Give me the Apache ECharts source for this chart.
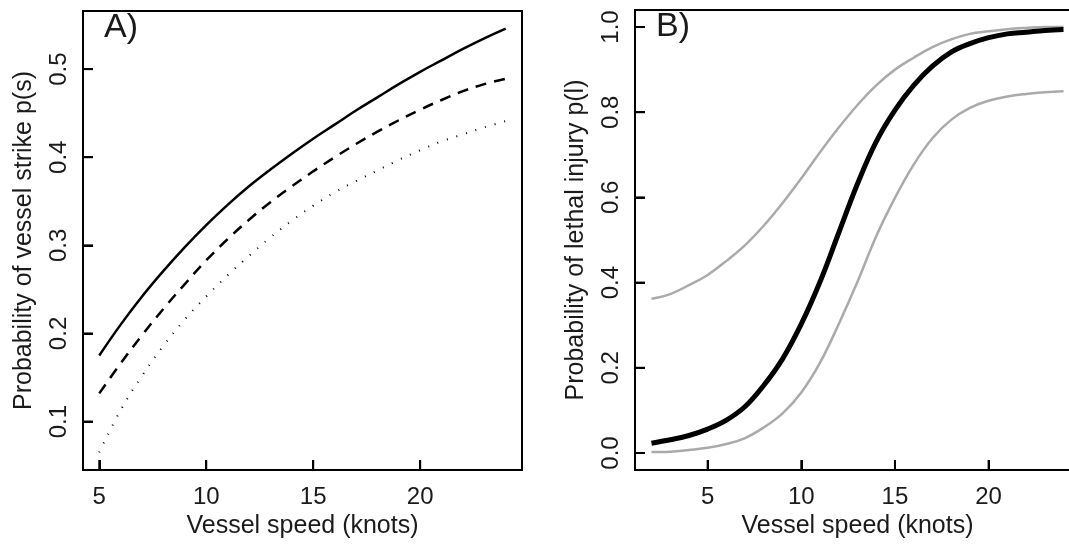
<!DOCTYPE html>
<html>
<head>
<meta charset="utf-8">
<script src="https://cdn.jsdelivr.net/npm/echarts@6/dist/echarts.min.js"></script>
<style>
  html, body { margin: 0; padding: 0; overflow: hidden; }
  .panel { position: absolute; top: 0; height: 548px; }
  #panelA { left: 0; width: 540px; }
  #panelB { left: 540px; width: 560px; }
</style>
</head>
<body>
<div id="panelA" class="panel"></div>
<div id="panelB" class="panel"></div>
<script>
// panel A: probability of vessel strike vs speed
const speedA = [5, 6, 7, 8, 9, 10, 11, 12, 13, 14, 15, 16, 17, 18, 19, 20, 21, 22, 23, 24]
const strikeSolid = [0.175, 0.210, 0.242, 0.271, 0.298, 0.323, 0.346, 0.367, 0.386, 0.404,
  0.421, 0.437, 0.453, 0.468, 0.483, 0.497, 0.510, 0.523, 0.535, 0.546]
const strikeDashed = [0.132, 0.166, 0.198, 0.228, 0.256, 0.283, 0.307, 0.329, 0.349, 0.367,
  0.384, 0.400, 0.415, 0.429, 0.442, 0.454, 0.465, 0.475, 0.483, 0.489]
const strikeDotted = [0.065, 0.113, 0.152, 0.186, 0.216, 0.242, 0.266, 0.288, 0.309, 0.328,
  0.345, 0.360, 0.373, 0.385, 0.397, 0.408, 0.418, 0.426, 0.434, 0.441]

// panel B: probability of lethal injury vs speed
const speedB = [2, 3, 4, 5, 6, 7, 8, 9, 10, 11, 12, 13, 14, 15, 16, 17, 18, 19, 20, 21, 22, 23, 24]
const lethalFit = [0.023, 0.031, 0.041, 0.056, 0.077, 0.109, 0.159, 0.221, 0.303, 0.402, 0.517,
  0.632, 0.731, 0.805, 0.863, 0.908, 0.941, 0.961, 0.975, 0.984, 0.988, 0.992, 0.994]
const lethalUpper = [0.362, 0.373, 0.394, 0.418, 0.451, 0.488, 0.534, 0.587, 0.645, 0.706, 0.764,
  0.817, 0.863, 0.900, 0.928, 0.953, 0.971, 0.984, 0.990, 0.995, 0.998, 1.0, 1.0]
const lethalLower = [0.002, 0.003, 0.007, 0.012, 0.021, 0.035, 0.060, 0.093, 0.142, 0.212, 0.303,
  0.402, 0.509, 0.599, 0.677, 0.739, 0.782, 0.810, 0.827, 0.837, 0.843, 0.847, 0.849]

// tick positions
const ticksXA = [5, 10, 15, 20]
const ticksYA = [0.1, 0.2, 0.3, 0.4, 0.5]
const ticksXB = [5, 10, 15, 20]
const ticksYB = [0, 0.2, 0.4, 0.6, 0.8, 1.0]

// axis ranges (R style, 4% padding)
const rangeXA = [4.24, 24.76]
const rangeYA = [0.045, 0.566]
const rangeXB = [1.12, 24.88]
const rangeYB = [-0.04, 1.04]

const font = 'Liberation Sans'
const textColor = '#1a1a1a'
const TICK = 10

function pairs(xs, ys) {
  return xs.map((x, i) => [x, ys[i]])
}

function xAxisFor(range) {
  return {
    type: 'value',
    position: 'bottom',
    min: range[0],
    max: range[1],
    splitNumber: 5,
    name: 'Vessel speed (knots)',
    nameLocation: 'middle',
    nameGap: 44,
    nameTextStyle: { color: textColor, fontSize: 25, fontFamily: font },
    axisLine: { show: true, onZero: false, lineStyle: { color: '#000', width: 2 } },
    splitLine: { show: false },
    axisTick: { show: true, inside: true, length: TICK, lineStyle: { color: '#000', width: 2 } },
    axisLabel: {
      showMinLabel: false,
      showMaxLabel: false,
      margin: 15,
      color: textColor,
      fontSize: 24,
      fontFamily: font,
    },
  }
}

function yAxisFor(range, name) {
  return {
    type: 'value',
    min: range[0],
    max: range[1],
    splitNumber: 5,
    name,
    nameLocation: 'middle',
    nameGap: 46,
    nameTextStyle: { color: textColor, fontSize: 25, fontFamily: font },
    axisLine: { show: true, onZero: false, lineStyle: { color: '#000', width: 2 } },
    splitLine: { show: false },
    axisTick: { show: true, inside: true, length: TICK, lineStyle: { color: '#000', width: 2 } },
    axisLabel: {
      showMinLabel: false,
      showMaxLabel: false,
      rotate: 90,
      margin: 12,
      color: textColor,
      fontSize: 24,
      fontFamily: font,
      formatter: (v) => v.toFixed(1),
    },
  }
}

function line(data, color, width, type) {
  return {
    type: 'line',
    data,
    showSymbol: false,
    smooth: 0.4,
    lineStyle: { color, width, type },
    silent: true,
  }
}

// inward ticks placed through the axis scales
function tickMarks(ticks, dir, xr, yr) {
  return {
    type: 'custom',
    silent: true,
    clip: false,
    z: 10,
    data: ticks.map((v) => [v]),
    renderItem: (params, api) => {
      const v = api.value(0)
      const p = dir === 'x' ? api.coord([v, yr[0]]) : api.coord([xr[0], v])
      const shape = dir === 'x'
        ? { x1: p[0], y1: p[1], x2: p[0], y2: p[1] - TICK }
        : { x1: p[0], y1: p[1], x2: p[0] + TICK, y2: p[1] }
      return { type: 'line', shape, style: { stroke: '#000', lineWidth: 2 } }
    },
  }
}

function panelOption(opts) {
  return {
    animation: false,
    grid: { left: opts.left, top: opts.top, right: opts.right, bottom: 78, show: true, borderColor: '#000', borderWidth: 2, backgroundColor: 'transparent' },
    xAxis: xAxisFor(opts.rangeX),
    yAxis: yAxisFor(opts.rangeY, opts.yName),
    graphic: [
      { type: 'text', left: opts.left + 21, top: opts.top, style: { text: opts.letter, fontSize: 34, fontFamily: font, fill: textColor } },
    ],
    series: opts.series.concat([
      tickMarks(opts.ticksX, 'x', opts.rangeX, opts.rangeY),
      tickMarks(opts.ticksY, 'y', opts.rangeX, opts.rangeY),
    ]),
  }
}

const chartA = echarts.init(document.getElementById('panelA'))
chartA.setOption(panelOption({
  left: 83, top: 11, right: 18,
  rangeX: rangeXA, rangeY: rangeYA,
  ticksX: ticksXA, ticksY: ticksYA,
  yName: 'Probability of vessel strike p(s)',
  letter: 'A)',
  series: [
    line(pairs(speedA, strikeSolid), '#000', 2.5, 'solid'),
    line(pairs(speedA, strikeDashed), '#000', 2.5, [11, 8]),
    line(pairs(speedA, strikeDotted), '#000', 2, [1, 9]),
  ],
}))

const chartB = echarts.init(document.getElementById('panelB'))
chartB.setOption(panelOption({
  left: 95, top: 10, right: 20,
  rangeX: rangeXB, rangeY: rangeYB,
  ticksX: ticksXB, ticksY: ticksYB,
  yName: 'Probability of lethal injury p(l)',
  letter: 'B)',
  series: [
    line(pairs(speedB, lethalUpper), '#aaaaaa', 2.5, 'solid'),
    line(pairs(speedB, lethalLower), '#aaaaaa', 2.5, 'solid'),
    line(pairs(speedB, lethalFit), '#000', 5, 'solid'),
  ],
}))

window.addEventListener('resize', () => {
  chartA.resize()
  chartB.resize()
})
</script>
</body>
</html>
